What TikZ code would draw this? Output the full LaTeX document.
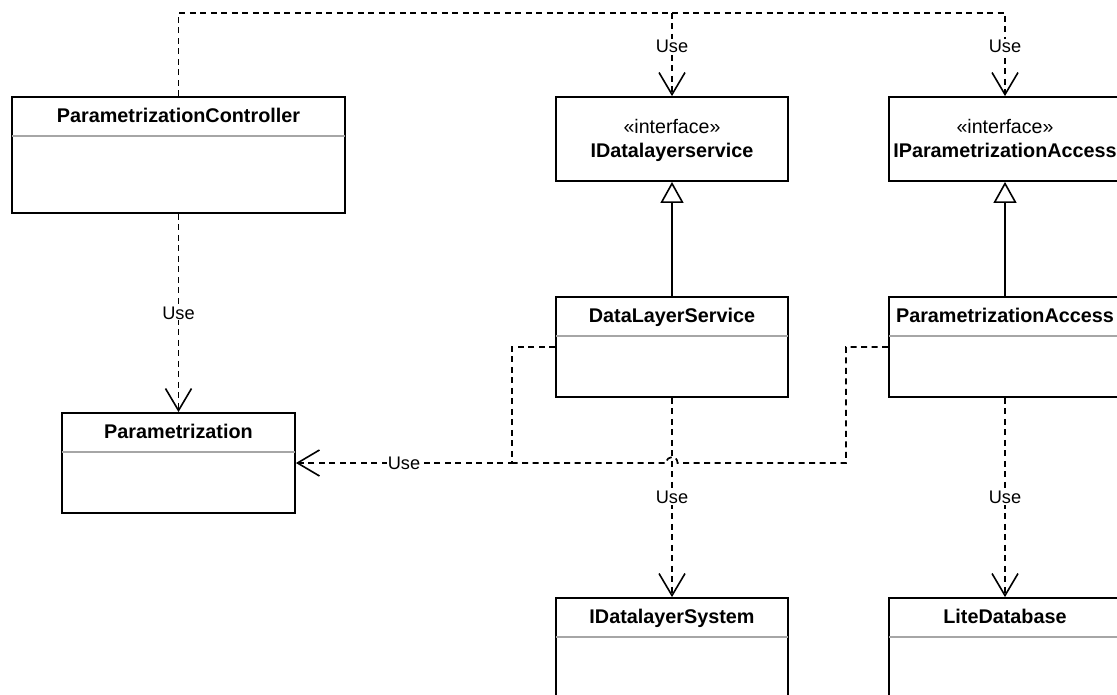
\documentclass[tikz,border=0pt]{standalone}
\usepackage{fontspec}
\setmainfont{Liberation Sans}
\usetikzlibrary{arrows.meta,calc}
\definecolor{sepgray}{HTML}{A6A6A6}
\tikzset{
 cls/.style={draw, line width=1.8pt, rectangle, inner sep=0pt, fill=white},
 ttl/.style={font=\fontsize{19.8}{23}\selectfont\bfseries, inner sep=0pt, anchor=base},
 stereo/.style={font=\fontsize{19.6}{23}\selectfont, inner sep=0pt, anchor=base},
 sepline/.style={draw=sepgray, line width=1.6pt},
 usedep/.style={line width=1.7pt, dash pattern=on 6pt off 4.5pt, -{Straight Barb[length=22pt,width=26pt,line width=1.6pt]}},
 dep/.style={line width=1.7pt, dash pattern=on 6pt off 4.5pt},
 real/.style={line width=1.7pt, -{Triangle[open,length=21pt,width=23pt,line width=1.6pt,fill=white]}},
 lbl/.style={font=\fontsize{18.2}{21}\selectfont, fill=white, inner sep=1pt},
}
\begin{document}
\begin{tikzpicture}[x=1pt,y=-1pt]
\useasboundingbox (0,0) rectangle (1117,695);
\clip (0,0) rectangle (1117,695);
% class boxes
\node[cls, minimum width=333pt, minimum height=116pt] (ctrl) at (178.5,155) {};
\node[cls, minimum width=233pt, minimum height=100pt] (param) at (178.5,463) {};
\node[cls, minimum width=232pt, minimum height=84pt] (ids) at (672,139) {};
\node[cls, minimum width=232pt, minimum height=84pt] (ipa) at (1005,139) {};
\node[cls, minimum width=232pt, minimum height=100pt] (dls) at (672,347) {};
\node[cls, minimum width=232pt, minimum height=100pt] (pa) at (1005,347) {};
\node[cls, minimum width=232pt, minimum height=124pt] (idsys) at (672,660) {};
\node[cls, minimum width=232pt, minimum height=124pt] (lite) at (1005,660) {};
% separators
\foreach \n in {ctrl,param,dls,pa,idsys,lite}
  \draw[sepline] ([yshift=-40pt,xshift=1pt]\n.north west) -- ([yshift=-40pt,xshift=-1pt]\n.north east);
% titles
\node[ttl] (ctrl-t) at ([yshift=-26.5pt]ctrl.north) {ParametrizationController};
\node[ttl] (param-t) at ([yshift=-26.5pt]param.north) {Parametrization};
\node[ttl] (dls-t) at ([yshift=-26.5pt]dls.north) {DataLayerService};
\node[ttl] (pa-t) at ([yshift=-26.5pt]pa.north) {ParametrizationAccess};
\node[ttl] (idsys-t) at ([yshift=-26.5pt]idsys.north) {IDatalayerSystem};
\node[ttl] (lite-t) at ([yshift=-26.5pt]lite.north) {LiteDatabase};
\node[stereo] (ids-s) at ([yshift=-37pt]ids.north) {«interface»};
\node[ttl] (ids-t) at ([yshift=-61.5pt]ids.north) {IDatalayerservice};
\node[stereo] (ipa-s) at ([yshift=-37pt]ipa.north) {«interface»};
\node[ttl] (ipa-t) at ([yshift=-61.5pt]ipa.north) {IParametrizationAccess};
% junction coordinates
\coordinate (top) at (672,13);
\coordinate (j2) at (512,463);
\coordinate (jpa) at (846,463);
\coordinate (jr) at (677.5,463);
\coordinate (jl) at (666.5,463);
% dependencies
\draw[dep] (ctrl.north) |- (top);
\draw[usedep] (top) -| node[lbl, pos=0.7] {Use} (ipa.north);
\draw[usedep] (top) -- node[lbl, pos=0.4] {Use} (ids.north);
\draw[usedep] (ctrl.south) -- node[lbl] {Use} (param.north);
\draw[usedep] (dls.south) -- node[lbl] {Use} (idsys.north);
\draw[usedep] (pa.south) -- node[lbl] {Use} (lite.north);
\draw[usedep] (dls.west) -| (j2) -- node[lbl] {Use} (param.east);
\draw[dep] (pa.west) -| (jpa) -- (jr) .. controls (677.5,455) and (666.5,455) .. (jl) -- (j2);
% realizations
\draw[real] (dls.north) -- (ids.south);
\draw[real] (pa.north) -- (ipa.south);
\end{tikzpicture}
\end{document}
